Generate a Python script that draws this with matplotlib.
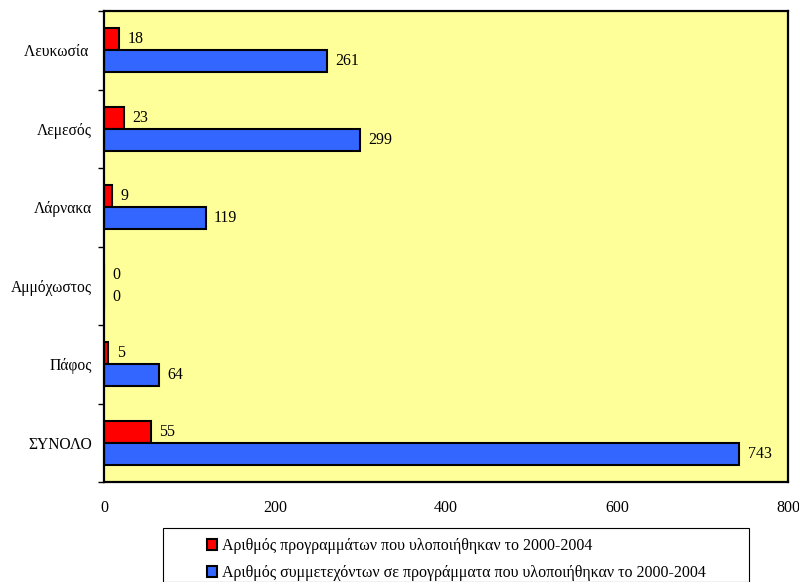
import matplotlib.pyplot as plt
from matplotlib.patches import Patch, Rectangle

plt.rcParams['font.family'] = ['Liberation Serif', 'DejaVu Serif']

# data
cities = ["Λευκωσία ", "Λεμεσός", "Λάρνακα", "Αμμόχωστος", "Πάφος", "ΣΥΝΟΛΟ"]
programmes = [18, 23, 9, 0, 5, 55]
participants = [261, 299, 119, 0, 64, 743]
legend_labels = ["Αριθμός προγραμμάτων που υλοποιήθηκαν το 2000-2004",
                 "Αριθμός συμμετεχόντων σε προγράμματα που υλοποιήθηκαν το 2000-2004"]
xticks = [0, 200, 400, 600, 800]

red = '#FF0000'
blue = '#3366FF'

fig = plt.figure(figsize=(7.99, 5.82), dpi=100)
W, H = 799, 582
ax = fig.add_axes([104 / W, 1 - 482 / H, (788 - 104) / W, (482 - 11) / H])
ax.set_facecolor('#FFFF99')

pos = list(range(len(cities)))
bh = 0.28
off = 0.143
ax.barh([p - off for p in pos], programmes, height=bh, color=red,
        edgecolor='black', linewidth=1.5)
ax.barh([p + off for p in pos], participants, height=bh, color=blue,
        edgecolor='black', linewidth=1.5)

for p, v in zip(pos, programmes):
    ax.annotate(str(v), (v, p - off), xytext=(6, 0), textcoords='offset points',
                ha='left', va='center', fontsize=11.5)
for p, v in zip(pos, participants):
    ax.annotate(str(v), (v, p + off), xytext=(6, 0), textcoords='offset points',
                ha='left', va='center', fontsize=11.5)

ax.set_xlim(0, 800)
ax.set_ylim(len(cities) - 0.5, -0.5)
ax.set_xticks(xticks)
ax.set_xticklabels([str(t) for t in xticks], fontsize=11.5)
ax.tick_params(axis='x', length=0, pad=13)

ax.set_yticks(pos)
ax.set_yticklabels(cities, fontsize=11.2)
ax.set_yticks([p - 0.5 for p in pos] + [len(cities) - 0.5], minor=True)
ax.tick_params(axis='y', which='major', length=0, pad=8.5)
ax.tick_params(axis='y', which='minor', length=4, width=1, direction='out')

for s in ax.spines.values():
    s.set_linewidth(1.6)
    s.set_color('black')

# legend box
fig.patches.append(Rectangle((163 / W, 0), (749 - 163) / W, 1 - 528 / H,
                             transform=fig.transFigure, facecolor='white',
                             edgecolor='black', linewidth=0.8))
handles = [Patch(facecolor=red, edgecolor='black', linewidth=1.5, label=legend_labels[0]),
           Patch(facecolor=blue, edgecolor='black', linewidth=1.5, label=legend_labels[1])]
fig.legend(handles=handles, loc='upper left', bbox_to_anchor=(199 / W, 1 - 530 / H),
           frameon=False, fontsize=11.5, handlelength=0.65, handleheight=0.65,
           handletextpad=0.3, labelspacing=0.7, borderpad=0)

fig.savefig('out.png', dpi=100)
